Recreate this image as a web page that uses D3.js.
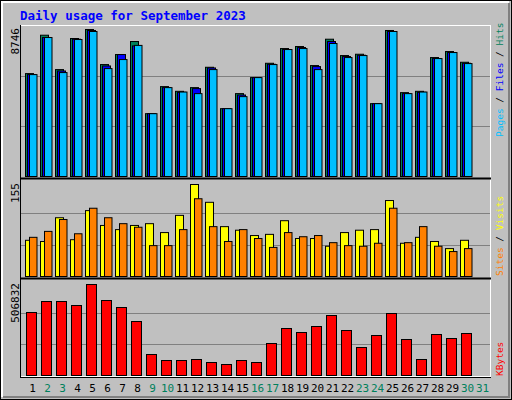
<!DOCTYPE html>
<html><head><meta charset="utf-8">
<script src="https://cdn.jsdelivr.net/npm/d3@7"></script>
<style>body{margin:0;background:#fff}text{font-family:"DejaVu Sans Mono",monospace}</style>
</head><body>
<svg id="c" width="512" height="400"></svg>
<script>
var days = d3.range(1, 32);
var weekend = [2, 3, 9, 10, 16, 17, 23, 24, 30, 31];
var hits = [6123,8406,6361,8210,8746,6660,7256,8031,3738,5348,5068,5288,6499,4036,4931,5884,6737,7613,7733,6600,8168,7196,7274,4334,8687,4990,5068,7077,7435,6797,0];
var files = [6063,8269,6278,8168,8687,6576,7256,7769,3738,5288,5008,5229,6457,4036,4847,5884,6677,7554,7673,6540,8031,7137,7214,4334,8627,4931,5008,7017,7375,6737,0];
var pages = [6063,8269,6183,8150,8627,6421,6958,7800,3738,5288,5026,4931,6361,4036,4752,5884,6660,7554,7613,6361,7912,7077,7196,4334,8627,4931,5026,7017,7375,6719,0];
var visits = [61,59,99,62,111,86,79,86,89,74,103,155,125,84,78,69,71,94,64,64,51,74,78,79,128,56,66,59,47,61,0];
var sites = [66,76,96,72,115,99,89,83,52,52,79,131,84,59,79,64,49,74,67,69,57,52,51,56,115,57,84,51,42,47,0];
var kbytes = [350879,412143,412143,389865,506832,417713,378726,300753,116960,83543,83543,89112,72404,61265,83543,72404,178224,261767,239489,272906,334170,250628,155946,222780,345309,200502,89112,228350,206072,233919,0];

var svg = d3.select("#c");
svg.append("rect").attr("x",0.5).attr("y",0.5).attr("width",511).attr("height",399).attr("fill","#c0c0c0").attr("stroke","#000");
svg.append("path").attr("d","M2,397V2H509").attr("fill","none").attr("stroke","#fff").attr("stroke-width",2);
svg.append("path").attr("d","M3,397H509V3").attr("fill","none").attr("stroke","#808080").attr("stroke-width",2);

svg.append("text").attr("x",20).attr("y",20).attr("fill","#0000ff").attr("font-weight","bold")
  .attr("font-size",12.5).text("Daily usage for September 2023");

var x = d3.scaleBand().domain(days).range([25, 25 + 15 * 31]);

// panel frames
var panels = [{t:25,b:177},{t:179,b:277},{t:279,b:377}];
svg.append("rect").attr("x",20.5).attr("y",25.5).attr("width",470).attr("height",351).attr("fill","none").attr("stroke","#fff");
panels.forEach(function (p, i) {
  if (i > 0) svg.append("line").attr("x1",20).attr("x2",491).attr("y1",p.t - 0.5).attr("y2",p.t - 0.5).attr("stroke","#000").attr("stroke-width",2);
});
svg.append("line").attr("x1",20.5).attr("x2",20.5).attr("y1",25).attr("y2",377).attr("stroke","#000");
svg.append("line").attr("x1",20).attr("x2",491).attr("y1",377.5).attr("y2",377.5).attr("stroke","#000");

function panel(base, top, max) {
  var y = d3.scaleLinear().domain([0, max]).range([base, top]);
  var h = base - top;
  [1, 2].forEach(function (k) {
    var gy = Math.round(base - h * k / 3 * 1.02) + 0.5;
    svg.append("line").attr("x1",21).attr("x2",490).attr("y1",gy).attr("y2",gy).attr("stroke","#808080");
  });
  return y;
}

function bars(data, y, off, w, color) {
  svg.append("g").selectAll("rect").data(data).join("rect")
    .attr("x", function (d, i) { return x(days[i]) + off + 0.5; })
    .attr("y", function (d) { return y(d) + 0.5; })
    .attr("width", w)
    .attr("height", function (d) { return Math.max(0, y(0) - y(d)); })
    .attr("fill", color).attr("stroke", "#000")
    .style("display", function (d) { return d > 0 ? null : "none"; });
}

var y1 = panel(176, 29, 8746);
bars(hits, y1, 0, 8, "#00805c");
bars(files, y1, 2, 8, "#0000ff");
bars(pages, y1, 4, 7.5, "#00bfff");

var y2 = panel(276, 184, 155);
bars(visits, y2, 0, 8, "#ffff00");
bars(sites, y2, 4, 7.5, "#ff8000");

var y3 = panel(375, 284, 506832);
bars(kbytes, y3, 1, 10, "#ff0000");

function leftLabel(txt, yTop) {
  svg.append("text").attr("transform","translate(19," + yTop + ") rotate(-90)")
    .attr("text-anchor","end").attr("font-size",11).attr("fill","#000").text(txt);
}
leftLabel("8746", 28);
leftLabel("155", 183);
leftLabel("506832", 283);

function rightLabel(parts, yBottom) {
  var t = svg.append("text").attr("transform","translate(503," + yBottom + ") rotate(-90)")
    .attr("font-size",9.5);
  parts.forEach(function (p) { t.append("tspan").attr("fill", p[1]).text(p[0]); });
}
rightLabel([["Pages","#00bfff"],[" / ","#000"],["Files","#0000ff"],[" / ","#000"],["Hits","#00805c"]], 137);
rightLabel([["Sites","#ff8000"],[" / ","#000"],["Visits","#ffff00"]], 276);
rightLabel([["KBytes","#ff0000"]], 376);

svg.append("g").selectAll("text").data(days).join("text")
  .attr("x", function (d) { return x(d) + 7.5; })
  .attr("y", 392).attr("text-anchor","middle").attr("font-size",11)
  .attr("fill", function (d) { return weekend.indexOf(d) >= 0 ? "#00805c" : "#000"; })
  .text(function (d) { return d; });
</script>
</body></html>
